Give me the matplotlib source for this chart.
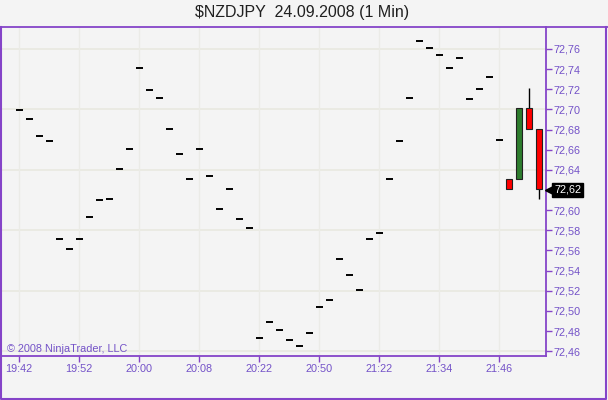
import numpy as np
import matplotlib
matplotlib.use("Agg")
import matplotlib.pyplot as plt
from matplotlib.lines import Line2D
from matplotlib.ticker import FuncFormatter

# flat 1-min bars (open = high = low = close)
flat_prices = [72.699, 72.690, 72.674, 72.669, 72.571, 72.561, 72.571, 72.593,
               72.610, 72.611, 72.641, 72.661, 72.741, 72.719, 72.711, 72.681,
               72.656, 72.631, 72.661, 72.634, 72.601, 72.621, 72.591, 72.582,
               72.473, 72.489, 72.481, 72.471, 72.465, 72.478, 72.504, 72.511,
               72.551, 72.536, 72.521, 72.571, 72.577, 72.631, 72.669, 72.711,
               72.768, 72.761, 72.754, 72.741, 72.751, 72.710, 72.720, 72.732,
               72.670]

# last four candles
candle_open = [72.631, 72.631, 72.701, 72.681]
candle_high = [72.631, 72.701, 72.721, 72.681]
candle_low = [72.621, 72.631, 72.681, 72.611]
candle_close = [72.621, 72.701, 72.681, 72.621]

time_labels = ["19:42", "19:52", "20:00", "20:08", "20:22", "20:50", "21:22", "21:34", "21:46"]
price_ticks = [72.46, 72.48, 72.50, 72.52, 72.54, 72.56, 72.58, 72.60,
               72.62, 72.64, 72.66, 72.68, 72.70, 72.72, 72.74, 72.76]
last_price = 72.62

purple = "#8544c8"
txt_purple = "#7452c8"
bg = "#f4f4f4"
W, H = 608, 400

plt.rcParams['font.family'] = ['Liberation Sans', 'DejaVu Sans']

fig = plt.figure(figsize=(W / 100, H / 100), dpi=100, facecolor=bg)
ax = fig.add_axes([1 / W, 1 - 356 / H, 545 / W, 329 / H], facecolor=bg)

n_flat = len(flat_prices)
x_flat = np.arange(n_flat)
ax.hlines(flat_prices, x_flat - 0.35, x_flat + 0.35, colors="black", lw=1.4, zorder=3)

x_c = np.arange(n_flat, n_flat + len(candle_open))
for x, o, h, l, c in zip(x_c, candle_open, candle_high, candle_low, candle_close):
    ax.vlines(x, l, h, colors="black", lw=1, zorder=2)
    col = "#2e7d2e" if c > o else "#ff0000"
    ax.bar(x, abs(c - o), bottom=min(o, c), width=0.65, color=col,
           edgecolor="#202020", lw=0.8, zorder=3)

ax.set_xlim(-1.8, 52.7)
ax.set_ylim(72.4552, 72.7818)

# axes styling
for s in ["top", "left"]:
    ax.spines[s].set_visible(False)
for s in ["right", "bottom"]:
    ax.spines[s].set_color(purple)
    ax.spines[s].set_linewidth(1.3)

ax.yaxis.tick_right()
ax.set_yticks(price_ticks)
ax.yaxis.set_major_formatter(FuncFormatter(lambda v, p: f"{v:.2f}".replace(".", ",")))
ax.set_xticks(np.arange(0, 6 * len(time_labels), 6))
ax.set_xticklabels(time_labels)
ax.tick_params(axis="both", colors=purple, labelcolor=txt_purple, labelsize=7.8,
               length=4, width=1)
ax.tick_params(axis="y", pad=1.5)
ax.tick_params(axis="x", pad=2)

ax.grid(axis="x", color="#ebebe7", lw=1, zorder=0)
for lvl in price_ticks[::3]:
    ax.axhline(lvl, color="#eaeae2", lw=1.3, zorder=0)

ax.text(6 / 545, 1.5 / 329, "\u00a9 2008 NinjaTrader, LLC", transform=ax.transAxes,
        color=txt_purple, fontsize=7.8, ha="left", va="bottom")

# last price marker
ytr = ax.get_yaxis_transform()
ax.plot([1 + 4 / 545], [last_price], marker="<", color="black", ms=7,
        transform=ytr, clip_on=False, zorder=5)
ax.text(1 + 8 / 545, last_price, f"{last_price:.2f}".replace(".", ","), transform=ytr,
        color="white", fontsize=7.8, ha="left", va="center", clip_on=False,
        bbox=dict(boxstyle="square,pad=0.15", fc="black", ec="black"), zorder=6)

# title and frame
fig.text(302 / W, 1 - 13 / H, "$NZDJPY  24.09.2008 (1 Min)", ha="center", va="center",
         fontsize=11.5, color="#202020")
fx = lambda px: px / W
fy = lambda py: 1 - py / H
fig.add_artist(Line2D([fx(0), fx(W)], [fy(27), fy(27)], color=purple, lw=1.3))
fig.add_artist(Line2D([fx(0.7), fx(0.7), fx(606), fx(606)],
                      [fy(27), fy(398.5), fy(398.5), fy(27)], color=purple, lw=1.5))

fig.savefig("out.png", dpi=100, facecolor=bg)
